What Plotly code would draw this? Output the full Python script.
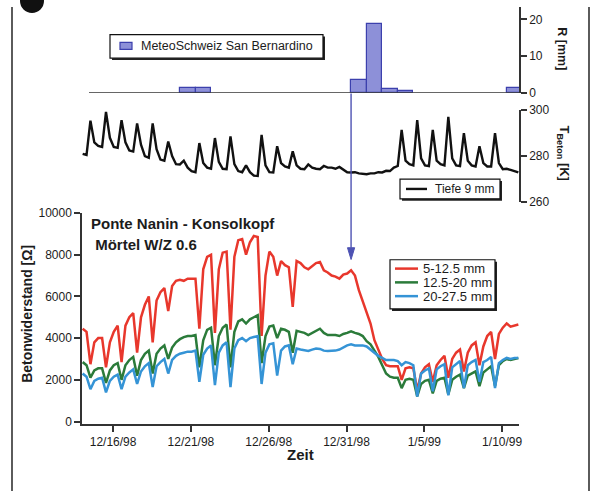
import pandas as pd
import plotly.graph_objects as go

# ---------------------------------------------------------------------------
# Data: 6-hourly logger readings, 14.12.1998 - 11.01.1999
# ---------------------------------------------------------------------------
times = pd.date_range("1998-12-14 01:00", periods=113, freq="6h")

# concrete temperature at 9 mm depth [K]; per day: 01h, 07h, 13h, 19h
temp_9mm = [
    281.0, 280.5, 295.5, 286.0,
    284.5, 284.0, 299.3, 288.0,
    284.0, 283.6, 295.7, 286.0,
    282.5, 282.0, 294.3, 285.0,
    280.0, 279.3, 294.3, 283.0,
    278.5, 278.0, 286.4, 280.0,
    276.5, 276.4, 278.0, 275.0,
    273.5, 273.0, 285.7, 277.0,
    275.0, 274.5, 287.9, 277.5,
    274.5, 274.3, 288.6, 276.5,
    273.5, 273.0, 276.0, 273.0,
    271.5, 271.4, 289.3, 276.0,
    273.0, 272.9, 284.3, 277.0,
    275.5, 275.0, 282.1, 276.0,
    274.5, 274.3, 276.4, 275.0,
    274.5, 274.3, 275.7, 275.0,
    275.0, 274.5, 275.3, 274.0,
    273.0, 272.9, 273.0, 272.5,
    272.2, 272.1, 272.5, 272.5,
    273.0, 272.9, 273.6, 273.5,
    275.0, 275.7, 291.4, 278.0,
    276.5, 276.0, 295.7, 279.0,
    276.0, 275.7, 291.4, 278.0,
    276.5, 276.0, 297.1, 279.0,
    276.0, 275.7, 290.0, 278.0,
    276.0, 275.5, 284.3, 277.0,
    275.5, 275.5, 290.0, 277.0,
    274.3, 274.5, 274.0, 273.5,
    272.9,
]

# concrete resistance [Ohm] for three depth ranges
res_5_12 = [
    4450, 4300, 2750, 3800,
    4000, 4000, 2600, 3800,
    4300, 4600, 2850, 4600,
    5000, 5200, 3300, 5000,
    5600, 6000, 3800, 5800,
    6200, 6400, 5300, 6500,
    6750, 6800, 6750, 6850,
    6850, 6850, 4450, 7300,
    7900, 8000, 4250, 7300,
    8100, 8150, 4400, 7900,
    8700, 8750, 8000, 8600,
    8900, 8850, 4100, 7000,
    8150, 7900, 7000, 7700,
    7500, 7400, 5500, 7700,
    7600, 7400, 7300, 7450,
    7600, 7650, 7250, 7150,
    7000, 6950, 6850, 7050,
    7100, 7250, 7000, 6300,
    5800, 5250, 4700, 3900,
    3400, 3000, 2700, 2650,
    2650, 2650, 2000, 2550,
    2600, 2550, 1500, 2300,
    2600, 2750, 1900, 2700,
    2950, 3150, 2100, 3000,
    3300, 3450, 2400, 3300,
    3650, 3800, 2700, 3600,
    4100, 4300, 3000, 4200,
    4500, 4700, 4550, 4600,
    4650,
]

res_12_20 = [
    2850, 2700, 2100, 2450,
    2550, 2550, 1850, 2450,
    2700, 2800, 2000, 2700,
    2950, 3100, 2200, 2950,
    3250, 3400, 2300, 3250,
    3500, 3650, 3000, 3550,
    3800, 3950, 4050, 4100,
    4100, 4150, 2600, 3900,
    4400, 4500, 2700, 4100,
    4500, 4650, 2600, 4300,
    4800, 4900, 4700, 4900,
    5000, 5100, 2800, 4100,
    4550, 4600, 4000, 4450,
    4400, 4300, 3300, 4350,
    4300, 4250, 4150, 4250,
    4350, 4450, 4250, 4150,
    4150, 4150, 4100, 4200,
    4250, 4330, 4250, 4200,
    4100, 3850, 3700, 3400,
    3100, 2700, 2300, 2150,
    2100, 2100, 1600, 2000,
    2050, 2000, 1200, 1800,
    1950, 2000, 1350, 1950,
    2050, 2100, 1300, 2000,
    2150, 2250, 1600, 2200,
    2300, 2400, 1700, 2350,
    2500, 2650, 1700, 2700,
    2900, 3000, 2950, 3000,
    3050,
]

res_20_27 = [
    2300, 2150, 1550, 1950,
    2050, 2100, 1400, 1950,
    2150, 2250, 1550, 2150,
    2350, 2500, 1800, 2400,
    2650, 2800, 1650, 2650,
    2850, 3000, 2300, 2950,
    3150, 3250, 3300, 3350,
    3350, 3400, 1900, 3200,
    3500, 3650, 1750, 3300,
    3650, 3800, 1650, 3500,
    3900, 4000, 3850, 4000,
    4050, 4100, 1800, 3300,
    3700, 3750, 2200, 3400,
    3600, 3650, 2750, 3500,
    3450, 3400, 3380, 3450,
    3500, 3480, 3400, 3380,
    3380, 3400, 3450, 3550,
    3650, 3700, 3650, 3650,
    3650, 3600, 3450, 3300,
    3150, 3050, 2950, 2950,
    2950, 2900, 2700, 2850,
    2800, 2700, 1200, 2300,
    2450, 2550, 1450, 2500,
    2650, 2750, 1250, 2600,
    2750, 2900, 1600, 2700,
    2850, 2950, 1900, 2850,
    2950, 3100, 1600, 2800,
    2950, 3050, 3000, 3050,
    3050,
]

# daily precipitation, MeteoSchweiz station San Bernardino [mm]
rain_days = ["1998-12-20", "1998-12-21", "1998-12-31", "1999-01-01",
             "1999-01-02", "1999-01-03", "1999-01-10"]
rain_mm = [1.3, 1.3, 3.6, 18.9, 1.1, 0.6, 1.3]

# onset of the heavy rain event and the resistance level the marker points at
rain_onset = "1998-12-31 07:00"
marker_level = 7770

series_names = ["5-12.5 mm", "12.5-20 mm", "20-27.5 mm"]
series_values = [res_5_12, res_12_20, res_20_27]
series_colors = ["#e8372c", "#2b7b3a", "#3594d6"]

# ---------------------------------------------------------------------------
# Page geometry
# ---------------------------------------------------------------------------
W, H = 594, 492
ML, MR, MT, MB = 82, 75, 0, 68
PW, PH = W - ML - MR, H - MT - MB
FONT = "Liberation Sans, Arial, Helvetica, sans-serif"
INK = "#1c1c1c"
DAY_MS = 86400000
BAR_FILL, BAR_EDGE = "#8d90d8", "#3c40ad"
MARKER_COLOR = "#4d52b3"
X_RANGE = ["1998-12-14 00:00", "1999-01-11 02:00"]
Y_RANGE = [-120, 10000]
Y_DOMAIN_TOP = 209.5   # pixel row of the top of the main panel


def px(x):
    return (x - ML) / PW


def py(y):
    return (H - MB - y) / PH


fig = go.Figure()

# precipitation bars (top panel)
fig.add_trace(go.Bar(
    x=rain_days, y=rain_mm, xaxis="x", yaxis="y3",
    width=DAY_MS, offset=0.3 * DAY_MS,
    marker=dict(color=BAR_FILL, line=dict(color=BAR_EDGE, width=1.2)),
    name="MeteoSchweiz San Bernardino", showlegend=False,
))

# concrete temperature (middle panel)
fig.add_trace(go.Scatter(
    x=times, y=temp_9mm, xaxis="x", yaxis="y2", mode="lines",
    line=dict(color="#111111", width=2.4),
    name="Tiefe 9 mm", showlegend=False,
))

# resistance curves (main panel)
for name, vals, col in zip(series_names, series_values, series_colors):
    fig.add_trace(go.Scatter(
        x=times, y=vals, xaxis="x", yaxis="y", mode="lines",
        line=dict(color=col, width=2.5), name=name, showlegend=False,
    ))

axis_common = dict(
    showline=True, linecolor="#333333", linewidth=1.5,
    ticks="outside", ticklen=6, tickwidth=1.5, tickcolor="#333333",
    showgrid=False, zeroline=False,
    tickfont=dict(family=FONT, size=12, color=INK),
)

fig.update_layout(
    width=W, height=H,
    margin=dict(l=ML, r=MR, t=MT, b=MB),
    paper_bgcolor="white", plot_bgcolor="white",
    font=dict(family=FONT, color=INK),
    bargap=0,
    xaxis=dict(
        type="date", range=X_RANGE,
        tick0="1998-12-16", dtick=5 * DAY_MS, tickformat="%-m/%-d/%y",
        anchor="y", domain=[0, 1], **axis_common,
    ),
    yaxis=dict(domain=[0, py(Y_DOMAIN_TOP)], range=Y_RANGE, dtick=2000,
               tickformat="d", anchor="x", **axis_common),
    yaxis2=dict(domain=[py(198.3), py(105)], range=[260, 300], dtick=20,
                tickformat="d", side="right", anchor="x", **axis_common),
    yaxis3=dict(domain=[py(87.3), 1], range=[0, 23.4], dtick=10,
                tickformat="d", side="right", anchor="x", **axis_common),
)

shapes = []
# page frame
for xf in (12, 589):
    shapes.append(dict(type="line", xref="paper", yref="paper",
                       x0=px(xf), x1=px(xf), y0=py(0), y1=py(H),
                       line=dict(color="#333333", width=1.6)))
# corner badge
shapes.append(dict(type="circle", xref="paper", yref="paper",
                   x0=px(20), x1=px(44), y0=py(6), y1=py(-18),
                   fillcolor="#111111", line=dict(width=0)))
# baseline of the precipitation panel
shapes.append(dict(type="line", xref="paper", yref="y3",
                   x0=px(89), x1=1, y0=0, y1=0,
                   line=dict(color="#333333", width=1.5)))

# rain-event marker: vertical stem from the rain panel down to the curves
t0, t1 = pd.Timestamp(X_RANGE[0]), pd.Timestamp(X_RANGE[1])
onset_frac = (pd.Timestamp(rain_onset) - t0) / (t1 - t0)
tip_frac = (marker_level - Y_RANGE[0]) / (Y_RANGE[1] - Y_RANGE[0]) * py(Y_DOMAIN_TOP)
head_len, head_half = 12 / PH, 3.6 / PW
shapes.append(dict(type="line", xref="paper", yref="paper",
                   x0=onset_frac, x1=onset_frac, y0=py(88), y1=tip_frac + head_len,
                   line=dict(color=MARKER_COLOR, width=1.4)))
shapes.append(dict(
    type="path", xref="paper", yref="paper",
    path=(f"M {onset_frac - head_half} {tip_frac + head_len} "
          f"L {onset_frac + head_half} {tip_frac + head_len} "
          f"L {onset_frac} {tip_frac} Z"),
    fillcolor=MARKER_COLOR, line=dict(color=MARKER_COLOR, width=1),
))


def legend_box(x0, y0, x1, y1):
    shapes.append(dict(type="rect", xref="paper", yref="paper",
                       x0=px(x0 + 2), x1=px(x1 + 2), y0=py(y1 + 2), y1=py(y0 + 2),
                       fillcolor="#222222", line=dict(width=0)))
    shapes.append(dict(type="rect", xref="paper", yref="paper",
                       x0=px(x0), x1=px(x1), y0=py(y1), y1=py(y0),
                       fillcolor="white", line=dict(color="#111111", width=1.2)))


annotations = []


def label(text, x, y, size, bold=False, anchor="left", angle=0):
    annotations.append(dict(
        text=f"<b>{text}</b>" if bold else text,
        xref="paper", yref="paper", x=px(x), y=py(y),
        xanchor=anchor, yanchor="middle", textangle=angle,
        showarrow=False, font=dict(family=FONT, size=size, color=INK),
    ))


# legend: precipitation
legend_box(110, 28, 323, 52)
shapes.append(dict(type="rect", xref="paper", yref="paper",
                   x0=px(120), x1=px(132), y0=py(43), y1=py(36),
                   fillcolor=BAR_FILL, line=dict(color=BAR_EDGE, width=1.2)))
label("MeteoSchweiz San Bernardino", 139, 40, 12.5)

# legend: temperature
legend_box(400, 175, 500, 195)
shapes.append(dict(type="line", xref="paper", yref="paper",
                   x0=px(406), x1=px(427), y0=py(185), y1=py(185),
                   line=dict(color="#111111", width=2.4)))
label("Tiefe 9 mm", 433, 185, 12)

# legend: resistance
legend_box(390, 257, 495, 307)
for i, (name, col) in enumerate(zip(series_names, series_colors)):
    yy = 266 + 14 * i
    shapes.append(dict(type="line", xref="paper", yref="paper",
                       x0=px(395), x1=px(418), y0=py(yy), y1=py(yy),
                       line=dict(color=col, width=2.5)))
    label(name, 421, yy, 13)

# titles
label("Ponte Nanin - Konsolkopf", 89, 220, 15, bold=True)
label(" Mörtel W/Z 0.6", 89, 241, 15, bold=True)
label("Betonwiderstand [Ω]", 27.5, 312.5, 14, bold=True, anchor="center", angle=-90)
label("Zeit", 300, 455, 15, bold=True, anchor="center")
label("R [mm]", 562, 42, 12.5, bold=True, anchor="center", angle=90)
label("T<sub>Beton</sub> [K]", 563, 148, 13, bold=True, anchor="center", angle=90)

fig.update_layout(shapes=shapes, annotations=annotations)
fig.write_html("out.html")
